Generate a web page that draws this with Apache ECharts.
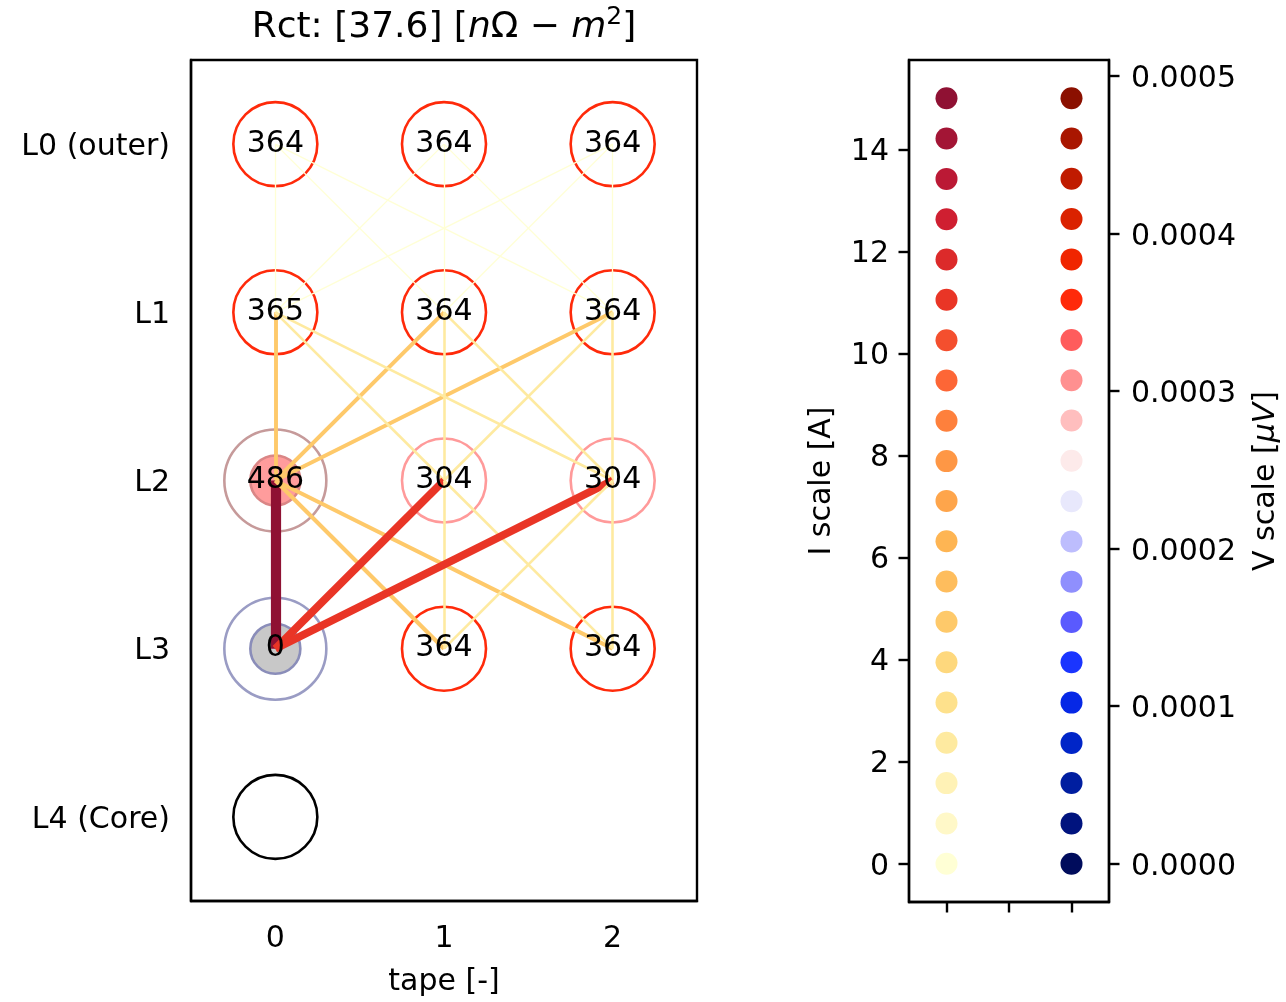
<!DOCTYPE html>
<html>
<head>
<meta charset="utf-8">
<script src="https://cdn.jsdelivr.net/npm/echarts@6/dist/echarts.min.js"></script>
<style>
  html, body { margin: 0; background: #fff; }
  #main { width: 1286px; height: 1002px; }
</style>
</head>
<body>
<div id="main"></div>
<script>
// left panel: tapes x layers
var tapeLabels = ['0', '1', '2'];
var layerLabels = ['L0 (outer)', 'L1', 'L2', 'L3', 'L4 (Core)'];

// nodes (tape index, layer index, printed voltage, kind)
var nodeTape  = [0, 1, 2, 0, 1, 2, 0, 1, 2, 0, 1, 2, 0];
var nodeLayer = [0, 0, 0, 1, 1, 1, 2, 2, 2, 3, 3, 3, 4];
var nodeText  = ['364', '364', '364', '365', '364', '364', '486', '304', '304', '0', '364', '364', ''];
var nodeKind  = ['ok', 'ok', 'ok', 'ok', 'ok', 'ok', 'src', 'low', 'low', 'sink', 'ok', 'ok', 'core'];

// edges between nodes: [tape, layer] -> [tape, layer], current [A]
var edgeFrom = [
  [0, 0], [0, 0], [0, 0], [1, 0], [1, 0], [1, 0], [2, 0], [2, 0], [2, 0],
  [0, 1], [1, 1], [2, 1], [0, 1], [0, 1], [1, 1], [1, 1], [2, 1], [2, 1],
  [0, 2], [0, 2], [0, 2], [1, 2], [1, 2], [1, 2], [2, 2], [2, 2], [2, 2]
];
var edgeTo = [
  [0, 1], [1, 1], [2, 1], [0, 1], [1, 1], [2, 1], [0, 1], [1, 1], [2, 1],
  [0, 2], [0, 2], [0, 2], [1, 2], [2, 2], [1, 2], [2, 2], [1, 2], [2, 2],
  [0, 3], [1, 3], [2, 3], [0, 3], [1, 3], [2, 3], [0, 3], [1, 3], [2, 3]
];
var edgeCurrent = [
  0.2, 0.2, 0.2, 0.2, 0.2, 0.2, 0.2, 0.2, 0.2,
  4.5, 4.5, 4.5, 2.3, 2.3, 2.3, 2.3, 2.3, 2.3,
  15, 4.8, 4.8, 11, 2.3, 2.3, 11, 2.3, 2.3
];

// right panel: colour scales
var iScale = [0, 0.79, 1.58, 2.37, 3.16, 3.95, 4.74, 5.53, 6.32, 7.11,
              7.89, 8.68, 9.47, 10.26, 11.05, 11.84, 12.63, 13.42, 14.21, 15];
var vScale = [0, 0.0000256, 0.0000512, 0.0000767, 0.0001023, 0.0001279, 0.0001535,
              0.0001791, 0.0002046, 0.0002302, 0.0002558, 0.0002814, 0.000307,
              0.0003325, 0.0003581, 0.0003837, 0.0004093, 0.0004349, 0.0004604, 0.000486];
var iColors = ['#ffffd5', '#fff8c8', '#fff2b6', '#feeaa0', '#fee18c', '#fed87d', '#fec96a',
               '#febd5d', '#feb553', '#fea54b', '#fe9745', '#fe803c', '#fd6636', '#f44f2e',
               '#e93526', '#dc2a2a', '#cf1f31', '#bb1935', '#a31535', '#8f1133'];
var vColors = ['#000c5c', '#00137e', '#001ea0', '#0025c8', '#0628e6', '#1a35ff', '#5a5afe',
               '#8f8ffd', '#bdbdfd', '#e8e8fc', '#fdeaea', '#ffbebe', '#ff9090', '#ff5c5c',
               '#ff2a0a', '#f02500', '#da2200', '#c01b00', '#a91600', '#8b1000'];
var iTicks = [0, 2, 4, 6, 8, 10, 12, 14];
var vTicks = [0, 0.0001, 0.0002, 0.0003, 0.0004, 0.0005];

var FONT = 'DejaVu Sans';

// ring styles per node kind
var ringStyle = {
  ok:   [{ size: 84, fill: 'rgba(0,0,0,0)', border: '#ff2a0a' }],
  low:  [{ size: 84, fill: 'rgba(0,0,0,0)', border: '#ff9a9a' }],
  src:  [{ size: 102, fill: 'rgba(0,0,0,0)', border: '#c69a9a' },
         { size: 50, fill: '#ff9c9c', border: '#da8686' }],
  sink: [{ size: 102, fill: 'rgba(0,0,0,0)', border: '#9a9cc4' },
         { size: 50, fill: '#c8c8c8', border: '#8a8db9' }],
  core: [{ size: 84, fill: 'rgba(0,0,0,0)', border: '#000000' }]
};

function currentColor(c) {
  var best = 0;
  for (var i = 1; i < iScale.length; i++) {
    if (Math.abs(iScale[i] - c) < Math.abs(iScale[best] - c)) best = i;
  }
  return iColors[best];
}

var ringData = [];
nodeKind.forEach(function (k, n) {
  ringStyle[k].forEach(function (r) {
    ringData.push({
      value: [nodeTape[n], nodeLayer[n]],
      symbolSize: r.size,
      itemStyle: { color: r.fill, borderColor: r.border, borderWidth: 2.6, opacity: 1 }
    });
  });
});

var edgeData = edgeFrom.map(function (f, i) {
  return {
    coords: [f, edgeTo[i]],
    lineStyle: { color: currentColor(edgeCurrent[i]), width: 1.2 + 0.6 * edgeCurrent[i] }
  };
});

var labelData = nodeText.map(function (t, n) {
  return { value: [nodeTape[n], nodeLayer[n]], name: t };
});

var axisLineStyle = { onZero: false, lineStyle: { color: '#000', width: 2.4 } };
var tickLine = { color: '#000', width: 2.4 };
var labelFont = { color: '#000', fontSize: 30, fontFamily: FONT };
// rich style nudging tick labels a few pixels down, like matplotlib
var shifted = { t: { color: '#000', fontSize: 30, fontFamily: FONT, padding: [6, 0, 0, 0] } };

var myChart = echarts.init(document.getElementById('main'));
myChart.setOption({
  animation: false,
  backgroundColor: '#fff',
  graphic: [{
    type: 'text',
    x: 444, y: 28,
    style: {
      text: '{a|Rct: [37.6] [}{i|n}{a|Ω − }{i|m}{s|2}{a|]}',
      textAlign: 'center',
      textVerticalAlign: 'middle',
      rich: {
        a: { fontSize: 36, fontFamily: FONT, fill: '#000' },
        i: { fontSize: 36, fontFamily: FONT, fontStyle: 'italic', fill: '#000' },
        s: { fontSize: 25, fontFamily: FONT, fill: '#000', padding: [0, 0, 22, 0] }
      }
    }
  }],
  grid: [
    { left: 191, top: 60, width: 506, height: 842, show: true, borderColor: '#000', borderWidth: 2.4 },
    { left: 909, top: 60, width: 200, height: 842, show: true, borderColor: '#000', borderWidth: 2.4 }
  ],
  xAxis: [{
    gridIndex: 0,
    type: 'category',
    data: tapeLabels,
    boundaryGap: true,
    name: 'tape [-]',
    nameLocation: 'middle',
    nameGap: 66,
    nameTextStyle: labelFont,
    axisLine: axisLineStyle,
    axisTick: { alignWithLabel: true, length: 10.5, lineStyle: tickLine },
    axisLabel: Object.assign({ margin: 23 }, labelFont),
    splitLine: { show: false }
  }, {
    gridIndex: 1,
    type: 'value',
    min: -0.3,
    max: 1.3,
    axisLine: axisLineStyle,
    axisTick: { length: 10.5, lineStyle: tickLine, customValues: [0, 0.5, 1] },
    axisLabel: { show: false },
    splitLine: { show: false }
  }],
  yAxis: [{
    gridIndex: 0,
    type: 'category',
    data: layerLabels,
    inverse: true,
    boundaryGap: true,
    axisLine: axisLineStyle,
    axisTick: { alignWithLabel: true, length: 10.5, lineStyle: tickLine },
    axisLabel: {
      margin: 21,
      formatter: function (v) { return '{t|' + v + '}'; },
      rich: shifted
    },
    splitLine: { show: false }
  }, {
    gridIndex: 1,
    type: 'value',
    min: -0.75,
    max: 15.75,
    name: 'I scale [A]',
    nameLocation: 'middle',
    nameRotate: 90,
    nameGap: 72,
    nameTextStyle: labelFont,
    axisLine: axisLineStyle,
    axisTick: { length: 10.5, lineStyle: tickLine, customValues: iTicks },
    axisLabel: {
      margin: 20,
      customValues: iTicks,
      formatter: function (v) { return '{t|' + v + '}'; },
      rich: shifted
    },
    splitLine: { show: false }
  }, {
    gridIndex: 1,
    type: 'value',
    position: 'right',
    min: -0.0000243,
    max: 0.0005103,
    name: '{a|V scale [}{i|μV}{a|]}',
    nameLocation: 'middle',
    nameRotate: 90,
    nameGap: 142,
    nameTextStyle: {
      rich: {
        a: { fontSize: 30, fontFamily: FONT, color: '#000' },
        i: { fontSize: 30, fontFamily: FONT, fontStyle: 'italic', color: '#000' }
      }
    },
    axisLine: axisLineStyle,
    axisTick: { length: 10.5, lineStyle: tickLine, customValues: vTicks },
    axisLabel: {
      margin: 22,
      customValues: vTicks,
      formatter: function (v) { return '{t|' + v.toFixed(4) + '}'; },
      rich: shifted
    },
    splitLine: { show: false }
  }],
  series: [{
    type: 'scatter',
    xAxisIndex: 0, yAxisIndex: 0,
    symbol: 'circle',
    data: ringData,
    z: 2
  }, {
    type: 'lines',
    coordinateSystem: 'cartesian2d',
    xAxisIndex: 0, yAxisIndex: 0,
    lineStyle: { opacity: 1, curveness: 0 },
    data: edgeData,
    z: 3
  }, {
    type: 'scatter',
    xAxisIndex: 0, yAxisIndex: 0,
    symbolSize: 1,
    itemStyle: { color: 'rgba(0,0,0,0)', opacity: 1 },
    label: {
      show: true,
      position: 'inside',
      formatter: function (p) { return p.name; },
      color: '#000', fontSize: 30, fontFamily: FONT
    },
    data: labelData,
    z: 4
  }, {
    type: 'scatter',
    xAxisIndex: 1, yAxisIndex: 1,
    symbolSize: 22,
    itemStyle: { opacity: 1 },
    data: iScale.map(function (v, i) {
      return { value: [0, v], itemStyle: { color: iColors[i] } };
    })
  }, {
    type: 'scatter',
    xAxisIndex: 1, yAxisIndex: 2,
    symbolSize: 22,
    itemStyle: { opacity: 1 },
    data: vScale.map(function (v, i) {
      return { value: [1, v], itemStyle: { color: vColors[i] } };
    })
  }]
});
</script>
</body>
</html>
